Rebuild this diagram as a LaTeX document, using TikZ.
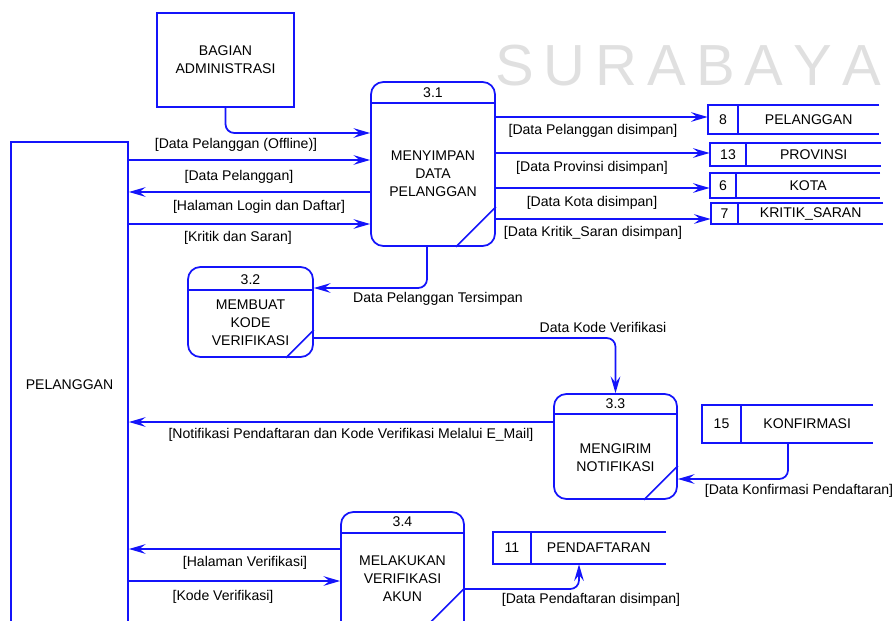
\documentclass[tikz,border=0pt]{standalone}
\usepackage{fontspec}
\setmainfont{Liberation Sans}
\usetikzlibrary{arrows.meta,positioning}
\definecolor{dfdblue}{RGB}{20,20,250}
\definecolor{wmgray}{RGB}{224,224,224}

\begin{document}
\begin{tikzpicture}[
		x={(0.02cm,0)}, y={(0,-0.02cm)},
		font=\fontsize{8}{10.2}\selectfont,
		proc/.style={draw=dfdblue, line width=1pt, rounded corners=7pt},
		ent/.style={draw=dfdblue, line width=1pt, align=center},
		storeid/.style={inner sep=0pt},
		storename/.style={inner sep=0pt},
		wall/.style={dfdblue, line width=1pt},
		flow/.style={-{Stealth[length=9.5pt,width=5.5pt,inset=3.5pt]}, line width=1pt, dfdblue, rounded corners=5pt},
		lbl/.style={inner sep=1pt}
	]
		\clip[use as bounding box] (0,0) rectangle (895,621);

		\node[text=wmgray, font=\fontsize{33}{33}\selectfont] (watermark) at (688,66)
			{S\hspace{0.2cm}U\hspace{0.2cm}R\hspace{0.2cm}A\hspace{0.2cm}B\hspace{0.2cm}A\hspace{0.2cm}Y\hspace{0.2cm}A};

		\node[ent, minimum width=2.74cm, minimum height=1.88cm] (adm) at (225.5,60) {BAGIAN\\ADMINISTRASI};
		\node[ent, minimum width=2.34cm, minimum height=9.72cm] (pel) at (69.5,385) {PELANGGAN};

		\node[proc, minimum width=2.48cm, minimum height=3.28cm] (p31) at (433,164) {};
		\node (p31id) at (433,93) {3.1};
		\draw[wall] (p31.west |- 0,103) -- (p31.east |- 0,103);
		\node[align=center] (p31txt) at (433,174) {MENYIMPAN\\DATA\\PELANGGAN};
		\draw[wall] ([xshift=-0.8cm]p31.south east) -- ([yshift=0.8cm]p31.south east);

		\node[proc, minimum width=2.5cm, minimum height=1.8cm] (p32) at (250.5,312) {};
		\node (p32id) at (250.5,280) {3.2};
		\draw[wall] (p32.west |- 0,290) -- (p32.east |- 0,290);
		\node[align=center] (p32txt) at (250.5,323) {MEMBUAT\\KODE\\VERIFIKASI};
		\draw[wall] ([xshift=-0.56cm]p32.south east) -- ([yshift=0.56cm]p32.south east);

		\node[proc, minimum width=2.46cm, minimum height=2.1cm] (p33) at (615.5,446.5) {};
		\node (p33id) at (615.5,404) {3.3};
		\draw[wall] (p33.west |- 0,414) -- (p33.east |- 0,414);
		\node[align=center] (p33txt) at (615.5,458) {MENGIRIM\\NOTIFIKASI};
		\draw[wall] ([xshift=-0.68cm]p33.south east) -- ([yshift=0.68cm]p33.south east);

		\node[proc, minimum width=2.46cm, minimum height=2.68cm] (p34) at (402.5,579) {};
		\node (p34id) at (402.5,522) {3.4};
		\draw[wall] (p34.west |- 0,533) -- (p34.east |- 0,533);
		\node[align=center] (p34txt) at (402.5,579) {MELAKUKAN\\VERIFIKASI\\AKUN};
		\draw[wall] ([xshift=-1.18cm]p34.south east) -- ([yshift=1.18cm]p34.south east);

		\node[storeid, minimum width=0.6cm, minimum height=0.58cm] (s8) at (723,119.5) {8};
		\node[storename, minimum width=2.8cm, minimum height=0.58cm, right=0pt of s8] (spelanggan) {PELANGGAN};
		\draw[wall] (spelanggan.north east) -- (s8.north west) -- (s8.south west) -- (spelanggan.south east);
		\draw[wall] (s8.north east) -- (s8.south east);

		\node[storeid, minimum width=0.72cm, minimum height=0.46cm] (s13) at (728,154.5) {13};
		\node[storename, minimum width=2.68cm, minimum height=0.46cm, right=0pt of s13] (sprovinsi) {PROVINSI};
		\draw[wall] (sprovinsi.north east) -- (s13.north west) -- (s13.south west) -- (sprovinsi.south east);
		\draw[wall] (s13.north east) -- (s13.south east);

		\node[storeid, minimum width=0.52cm, minimum height=0.5cm] (s6) at (723,185.5) {6};
		\node[storename, minimum width=2.86cm, minimum height=0.5cm, right=0pt of s6] (skota) {KOTA};
		\draw[wall] (skota.north east) -- (s6.north west) -- (s6.south west) -- (skota.south east);
		\draw[wall] (s6.north east) -- (s6.south east);

		\node[storeid, minimum width=0.54cm, minimum height=0.42cm] (s7) at (724.5,213.5) {7};
		\node[storename, minimum width=2.88cm, minimum height=0.42cm, right=0pt of s7] (skritik) {KRITIK\_SARAN};
		\draw[wall] (skritik.north east) -- (s7.north west) -- (s7.south west) -- (skritik.south east);
		\draw[wall] (s7.north east) -- (s7.south east);

		\node[storeid, minimum width=0.78cm, minimum height=0.76cm] (s15) at (721.5,424) {15};
		\node[storename, minimum width=2.62cm, minimum height=0.76cm, right=0pt of s15] (skonfirmasi) {KONFIRMASI};
		\draw[wall] (skonfirmasi.north east) -- (s15.north west) -- (s15.south west) -- (skonfirmasi.south east);
		\draw[wall] (s15.north east) -- (s15.south east);

		\node[storeid, minimum width=0.76cm, minimum height=0.64cm] (s11) at (512,548) {11};
		\node[storename, minimum width=2.68cm, minimum height=0.64cm, right=0pt of s11] (spendaftaran) {PENDAFTARAN};
		\draw[wall] (spendaftaran.north east) -- (s11.north west) -- (s11.south west) -- (spendaftaran.south east);
		\draw[wall] (s11.north east) -- (s11.south east);

		\draw[flow] (adm.south) |- (p31.west |- 0,133);
		\draw[flow] (pel.east |- 0,160) -- (p31.west |- 0,160);
		\draw[flow] (p31.west |- 0,192) -- (pel.east |- 0,192);
		\draw[flow] (pel.east |- 0,224) -- (p31.west |- 0,224);
		\draw[flow] (p31.east |- 0,117) -- (s8.west |- 0,117);
		\draw[flow] (p31.east |- 0,153) -- (s13.west |- 0,153);
		\draw[flow] (p31.east |- 0,188) -- (s6.west |- 0,188);
		\draw[flow] (p31.east |- 0,219) -- (s7.west |- 0,219);
		\draw[flow] (p31.south -| 427,0) |- (p32.east |- 0,288);
		\draw[flow] (p32.east |- 0,338) -| (p33.north);
		\draw[flow] (p33.west |- 0,422) -- (pel.east |- 0,422);
		\draw[flow] (skonfirmasi.south -| 788,0) |- (p33.east |- 0,479);
		\draw[flow] (p34.west |- 0,549) -- (pel.east |- 0,549);
		\draw[flow] (pel.east |- 0,581) -- (p34.west |- 0,581);
		\draw[flow] (p34.east |- 0,589) -| (spendaftaran.south -| 579,0);

		\node[lbl] (loffline) at (236,145) {[Data Pelanggan (Offline)]};
		\node[lbl] (ldata) at (239,177) {[Data Pelanggan]};
		\node[lbl] (llogin) at (259,207) {[Halaman Login dan Daftar]};
		\node[lbl] (lkritik) at (238,238) {[Kritik dan Saran]};
		\node[lbl] (lpelsimpan) at (593,131) {[Data Pelanggan disimpan]};
		\node[lbl] (lprovsimpan) at (592,168) {[Data Provinsi disimpan]};
		\node[lbl] (lkotasimpan) at (592,203) {[Data Kota disimpan]};
		\node[lbl] (lkritiksimpan) at (593,233) {[Data Kritik\_Saran disimpan]};
		\node[lbl] (ltersimpan) at (438,299) {Data Pelanggan Tersimpan};
		\node[lbl] (lkode) at (603,327) {Data Kode Verifikasi};
		\node[lbl] (lnotif) at (351,435) {[Notifikasi Pendaftaran dan Kode Verifikasi Melalui E\_Mail]};
		\node[lbl] (lkonfirmasi) at (799,491) {[Data Konfirmasi Pendaftaran]};
		\node[lbl] (lhalverif) at (245,563) {[Halaman Verifikasi]};
		\node[lbl] (lkodeverif) at (223,597) {[Kode Verifikasi]};
		\node[lbl] (ldaftarsimpan) at (591,600) {[Data Pendaftaran disimpan]};
	\end{tikzpicture}
\end{document}
